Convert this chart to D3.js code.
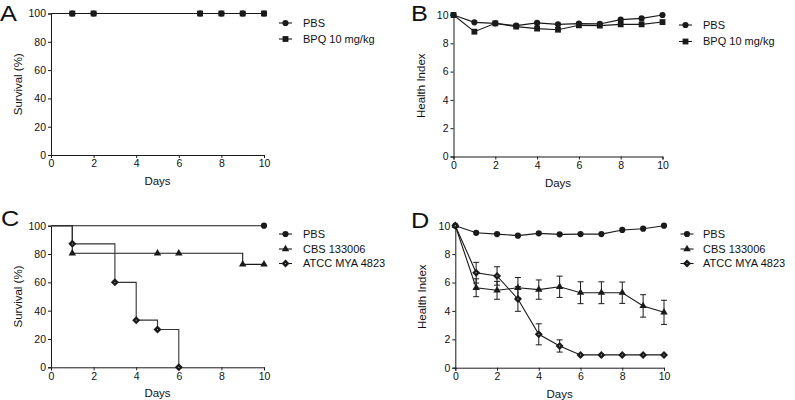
<!DOCTYPE html>
<html><head><meta charset="utf-8">
<script src="https://cdn.jsdelivr.net/npm/d3@7"></script>
<style>
body{margin:0;background:#fff;}
text{font-family:"Liberation Sans",Arial,sans-serif;fill:#111;}
</style></head>
<body><svg id="c" width="795" height="400"></svg>
<script>
// ---- data ----
const days = [0,1,2,3,4,5,6,7,8,9,10];
const xTicks = [0,2,4,6,8,10];
const survTicks = [0,20,40,60,80,100];
const hiTicks = [0,2,4,6,8,10];

// Panel A (survival, step)
const survA_PBS_t = [0,10], survA_PBS_v = [100,100];
const survA_BPQ_t = [0,10], survA_BPQ_v = [100,100];
const survA_marks = [1,2,7,8,9,10];

// Panel B (health index)
const hiB_PBS = [10,9.48,9.41,9.25,9.44,9.34,9.39,9.37,9.67,9.76,10];
const hiB_BPQ = [10,8.82,9.41,9.18,9.04,8.96,9.27,9.25,9.34,9.34,9.5];

// Panel C (survival, step)
const survC_PBS_t = [0,10], survC_PBS_v = [100,100], survC_PBS_marks = [10];
const survC_CBS_t = [0,1,9,10], survC_CBS_v = [100,80.5,72.7,72.7], survC_CBS_marks = [1,5,6,9,10];
const survC_ATCC_t = [0,1,3,4,5,6], survC_ATCC_v = [100,87.2,60,33.3,26.7,0], survC_ATCC_marks = [1,3,4,5,6];

// Panel D (health index with error)
const hiD_PBS = [10,9.5,9.41,9.3,9.46,9.39,9.41,9.41,9.7,9.79,10];
const hiD_CBS = [10,5.63,5.45,5.63,5.5,5.7,5.28,5.28,5.28,4.35,3.9];
const hiD_CBS_err = [0,0.63,0.63,0.72,0.68,0.75,0.77,0.77,0.75,0.79,0.85];
const hiD_ATCC = [10,6.69,6.46,4.84,2.35,1.53,0.9,0.9,0.9,0.9,0.9];
const hiD_ATCC_err = [0,0.73,0.65,0.87,0.74,0.43,0,0,0,0,0];

const namesAB = ["PBS","BPQ 10 mg/kg"];
const namesCD = ["PBS","CBS 133006","ATCC MYA 4823"];
const panelLetters = ["A","B","C","D"];

// ---- drawing ----
const svg = d3.select("#c");
const INK = "#1a1a1a";
const sym = {
  circle: d3.symbol().type(d3.symbolCircle).size(30),
  square: d3.symbol().type(d3.symbolSquare).size(34),
  triangle: d3.symbol().type(d3.symbolTriangle).size(24),
  diamond: d3.symbol().type(d3.symbolSquare).size(32)
};

function marker(g,shape,cx,cy){
  g.append("path").attr("d",sym[shape]()).attr("fill",INK)
    .attr("transform",`translate(${cx},${cy})` + (shape==="diamond" ? " rotate(45)" : ""));
  if(shape==="diamond"){
    g.append("circle").attr("cx",cx).attr("cy",cy).attr("r",0.6).attr("fill","#bbb");
  }
}

function panel(o){
  const g = svg.append("g");
  const x = d3.scaleLinear().domain([0,10]).range([o.x0,o.x1]);
  const y = d3.scaleLinear().domain([0,o.ymax]).range([o.y0,o.y1]);
  const xa = g.append("g").attr("transform",`translate(0,${o.y0})`)
    .call(d3.axisBottom(x).tickValues(xTicks).tickSize(3).tickPadding(2));
  const ya = g.append("g").attr("transform",`translate(${o.x0},0)`)
    .call(d3.axisLeft(y).tickValues(o.yticks).tickSize(3).tickPadding(2));
  [xa,ya].forEach(a=>{
    a.selectAll("path,line").attr("stroke",INK).attr("stroke-width",1);
    a.selectAll("text").style("font-size","10.5px").attr("fill","#111")
      .style("font-family",'"Liberation Sans",Arial,sans-serif');
  });
  g.append("text").attr("x",(o.x0+o.x1)/2).attr("y",o.y0+30)
    .attr("text-anchor","middle").style("font-size","11.5px").text("Days");
  g.append("text").attr("transform",`translate(${o.x0-29},${(o.y0+o.y1)/2}) rotate(-90)`)
    .attr("text-anchor","middle").style("font-size","11.5px").text(o.ytitle);
  g.append("text").attr("x",o.lx).attr("y",o.ly).style("font-size","22px")
    .attr("transform",`translate(${o.lx},0) scale(1.15,1) translate(${-o.lx},0)`).text(o.letter);
  return {g,x,y};
}

function stepVal(t,v,d){ let r=v[0]; for(let i=0;i<t.length;i++) if(t[i]<=d) r=v[i]; return r; }

function drawStep(p,t,v,marks,shape,color){
  const pts=[]; for(let i=0;i<t.length;i++){ if(i>0) pts.push([t[i],v[i-1]]); pts.push([t[i],v[i]]); }
  p.g.append("path").attr("d",d3.line().x(d=>p.x(d[0])).y(d=>p.y(d[1]))(pts))
    .attr("fill","none").attr("stroke",color).attr("stroke-width",1.1);
  marks.forEach(d=>marker(p.g,shape,p.x(d),p.y(stepVal(t,v,d))));
}

function drawLine(p,vals,err,shape){
  if(err){
    days.forEach((d,i)=>{
      if(!err[i]) return;
      const cx=p.x(d), t=p.y(vals[i]+err[i]), b=p.y(vals[i]-err[i]);
      p.g.append("path").attr("d",`M${cx},${t}V${b}M${cx-3},${t}H${cx+3}M${cx-3},${b}H${cx+3}`)
        .attr("stroke",INK).attr("stroke-width",1).attr("fill","none");
    });
  }
  p.g.append("path").attr("d",d3.line().x((d,i)=>p.x(days[i])).y(d=>p.y(d))(vals))
    .attr("fill","none").attr("stroke",INK).attr("stroke-width",1.1);
  vals.forEach((v,i)=>marker(p.g,shape,p.x(days[i]),p.y(v)));
}

function legend(p,names,shapes,lx,tx,ys){
  names.forEach((n,i)=>{
    p.g.append("line").attr("x1",lx-6.5).attr("x2",lx+6.5).attr("y1",ys[i]).attr("y2",ys[i])
      .attr("stroke",INK).attr("stroke-width",1.1);
    marker(p.g,shapes[i],lx,ys[i]);
    p.g.append("text").attr("x",tx).attr("y",ys[i]).attr("dy","0.36em")
      .style("font-size","11px").text(n);
  });
}

// Panel A
const pA = panel({x0:51,x1:264,y0:155,y1:13.5,ymax:100,yticks:survTicks,ytitle:"Survival (%)",letter:panelLetters[0],lx:0,ly:21});
drawStep(pA,survA_PBS_t,survA_PBS_v,survA_marks,"circle",INK);
drawStep(pA,survA_BPQ_t,survA_BPQ_v,survA_marks,"square",INK);
legend(pA,namesAB,["circle","square"],285.5,303,[23,39]);

// Panel B
const pB = panel({x0:453.5,x1:662.5,y0:156.5,y1:15,ymax:10,yticks:hiTicks,ytitle:"Health Index",letter:panelLetters[1],lx:411,ly:21});
drawLine(pB,hiB_PBS,null,"circle");
drawLine(pB,hiB_BPQ,null,"square");
legend(pB,namesAB,["circle","square"],685.5,703,[25,41.5]);

// Panel C
const pC = panel({x0:51,x1:264,y0:367.3,y1:225.7,ymax:100,yticks:survTicks,ytitle:"Survival (%)",letter:panelLetters[2],lx:1,ly:226});
drawStep(pC,survC_PBS_t,survC_PBS_v,survC_PBS_marks,"circle",INK);
drawStep(pC,survC_CBS_t,survC_CBS_v,survC_CBS_marks,"triangle",INK);
drawStep(pC,survC_ATCC_t,survC_ATCC_v,survC_ATCC_marks,"diamond","#333");
legend(pC,namesCD,["circle","triangle","diamond"],285.5,303,[234,249,263.5]);

// Panel D
const pD = panel({x0:455.3,x1:664,y0:367.7,y1:225.7,ymax:10,yticks:hiTicks,ytitle:"Health Index",letter:panelLetters[3],lx:411,ly:228});
drawLine(pD,hiD_PBS,null,"circle");
drawLine(pD,hiD_CBS,hiD_CBS_err,"triangle");
drawLine(pD,hiD_ATCC,hiD_ATCC_err,"diamond");
legend(pD,namesCD,["circle","triangle","diamond"],687,703,[234,249,263.5]);
</script></body></html>
